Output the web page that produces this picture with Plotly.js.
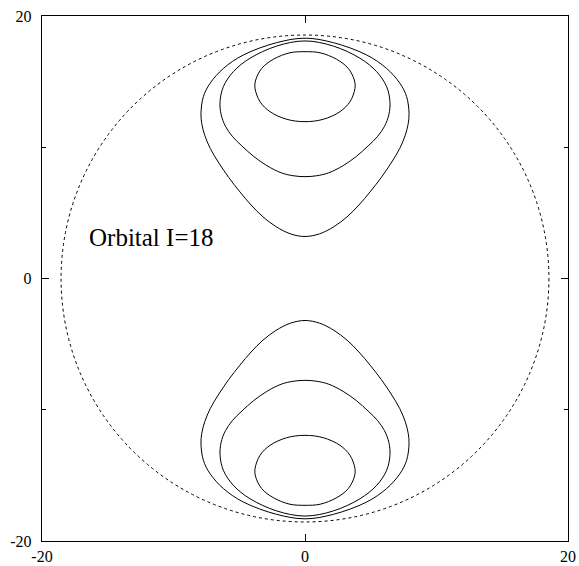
<!DOCTYPE html>
<html>
<head>
<meta charset="utf-8">
<script src="https://cdn.plot.ly/plotly-3.0.1.min.js"></script>
<style>html,body{margin:0;padding:0;background:#fff;}#chart{width:579px;height:566px;}</style>
</head>
<body>
<div id="chart"></div>
<script>
// Contour lines (x, y in plot units)
var outerTopX = [0, 2.15, 4.69, 6.21, 7.22, 7.73, 7.91, 7.85, 7.62, 7.2, 6.55, 5.8, 4.95, 4.1, 3.2, 2.2, 1.1, 0, -1.1, -2.2, -3.2, -4.1, -4.95, -5.8, -6.55, -7.2, -7.62, -7.85, -7.91, -7.73, -7.22, -6.21, -4.69, -2.15, 0];
var outerTopY = [18.31, 17.97, 17.03, 16.0, 14.87, 13.85, 12.6, 11.8, 10.9, 9.9, 8.8, 7.7, 6.6, 5.6, 4.7, 3.95, 3.4, 3.2, 3.4, 3.95, 4.7, 5.6, 6.6, 7.7, 8.8, 9.9, 10.9, 11.8, 12.6, 13.85, 14.87, 16.0, 17.03, 17.97, 18.31];
var middleTopX = [0, 2.15, 4.18, 5.45, 6.21, 6.46, 6.38, 6.05, 5.5, 4.8, 3.9, 2.9, 1.8, 0.9, 0, -0.9, -1.8, -2.9, -3.9, -4.8, -5.5, -6.05, -6.38, -6.46, -6.21, -5.45, -4.18, -2.15, 0];
var middleTopY = [18.1, 17.71, 16.78, 15.76, 14.61, 13.47, 12.5, 11.6, 10.8, 10.1, 9.3, 8.6, 8.05, 7.83, 7.76, 7.83, 8.05, 8.6, 9.3, 10.1, 10.8, 11.6, 12.5, 13.47, 14.61, 15.76, 16.78, 17.71, 18.1];
var innerTopX = [0, 1.14, 2.41, 3.29, 3.75, 3.8, 3.42, 2.66, 1.39, 0, -1.39, -2.66, -3.42, -3.8, -3.75, -3.29, -2.41, -1.14, 0];
var innerTopY = [17.28, 17.2, 16.7, 16.01, 15.12, 14.49, 13.47, 12.71, 12.13, 11.95, 12.13, 12.71, 13.47, 14.49, 15.12, 16.01, 16.7, 17.2, 17.28];

var outerBotX = [0, 2.15, 4.69, 6.21, 7.22, 7.73, 7.91, 7.85, 7.62, 7.2, 6.55, 5.8, 4.95, 4.1, 3.2, 2.2, 1.1, 0, -1.1, -2.2, -3.2, -4.1, -4.95, -5.8, -6.55, -7.2, -7.62, -7.85, -7.91, -7.73, -7.22, -6.21, -4.69, -2.15, 0];
var outerBotY = [-18.31, -17.97, -17.03, -16.0, -14.87, -13.85, -12.6, -11.8, -10.9, -9.9, -8.8, -7.7, -6.6, -5.6, -4.7, -3.95, -3.4, -3.2, -3.4, -3.95, -4.7, -5.6, -6.6, -7.7, -8.8, -9.9, -10.9, -11.8, -12.6, -13.85, -14.87, -16.0, -17.03, -17.97, -18.31];
var middleBotX = [0, 2.15, 4.18, 5.45, 6.21, 6.46, 6.38, 6.05, 5.5, 4.8, 3.9, 2.9, 1.8, 0.9, 0, -0.9, -1.8, -2.9, -3.9, -4.8, -5.5, -6.05, -6.38, -6.46, -6.21, -5.45, -4.18, -2.15, 0];
var middleBotY = [-18.1, -17.71, -16.78, -15.76, -14.61, -13.47, -12.5, -11.6, -10.8, -10.1, -9.3, -8.6, -8.05, -7.83, -7.76, -7.83, -8.05, -8.6, -9.3, -10.1, -10.8, -11.6, -12.5, -13.47, -14.61, -15.76, -16.78, -17.71, -18.1];
var innerBotX = [0, 1.14, 2.41, 3.29, 3.75, 3.8, 3.42, 2.66, 1.39, 0, -1.39, -2.66, -3.42, -3.8, -3.75, -3.29, -2.41, -1.14, 0];
var innerBotY = [-17.28, -17.2, -16.7, -16.01, -15.12, -14.49, -13.47, -12.71, -12.13, -11.95, -12.13, -12.71, -13.47, -14.49, -15.12, -16.01, -16.7, -17.2, -17.28];

var circleRadius = 18.55;
var tickVals = [-20, 0, 20];
var tickLabels = ['-20', '0', '20'];
var minorTickVals = [-10, 10];
var labelText = 'Orbital I=18';

var font = 'Liberation Serif, Times New Roman, serif';
function curve(x, y) {
  return {x: x, y: y, type: 'scatter', mode: 'lines',
    line: {color: '#000', width: 1, shape: 'spline', smoothing: 1},
    hoverinfo: 'skip', showlegend: false};
}
var traces = [
  curve(outerTopX, outerTopY), curve(middleTopX, middleTopY), curve(innerTopX, innerTopY),
  curve(outerBotX, outerBotY), curve(middleBotX, middleBotY), curve(innerBotX, innerBotY)
];

var axisCommon = {
  range: [-20, 20], showgrid: false, zeroline: false,
  showline: true, linecolor: '#000', linewidth: 1.3, mirror: 'allticks',
  ticks: 'inside', ticklen: 7, tickwidth: 1, tickcolor: '#000',
  tickmode: 'array', tickvals: tickVals, ticktext: tickLabels,
  tickfont: {family: font, size: 16, color: '#000'}
};
var xaxis = Object.assign({}, axisCommon, {ticklabelstandoff: 0});
var yaxis = Object.assign({}, axisCommon, {
  ticklabelstandoff: 6,
  minor: {tickvals: minorTickVals, ticks: 'inside', ticklen: 4, tickwidth: 1, tickcolor: '#000'}
});

var layout = {
  width: 579, height: 566,
  margin: {l: 42, r: 11, t: 16, b: 25},
  paper_bgcolor: '#fff', plot_bgcolor: '#fff',
  xaxis: xaxis, yaxis: yaxis,
  showlegend: false,
  shapes: [{type: 'circle', xref: 'x', yref: 'y',
    x0: -circleRadius, x1: circleRadius, y0: -circleRadius, y1: circleRadius,
    line: {color: '#000', width: 1, dash: '3px,3px'}}],
  annotations: [{x: -16.6, y: 3.1, xref: 'x', yref: 'y', xanchor: 'left', yanchor: 'middle',
    text: labelText, showarrow: false, font: {family: font, size: 25, color: '#000'}}]
};
Plotly.newPlot('chart', traces, layout, {displayModeBar: false, staticPlot: true});
</script>
</body>
</html>
